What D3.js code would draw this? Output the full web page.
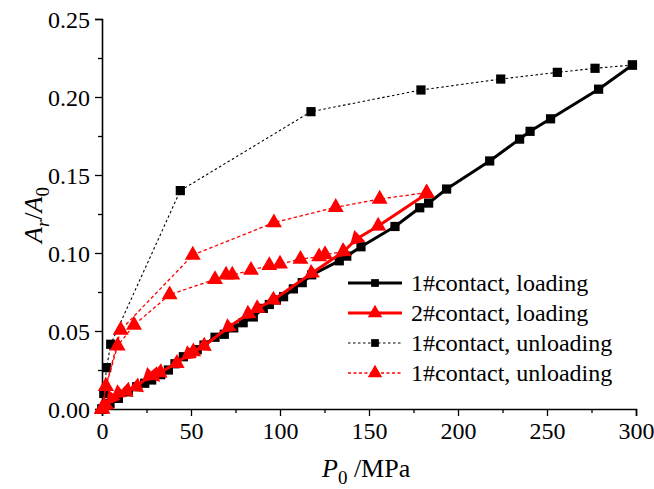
<!DOCTYPE html>
<html>
<head>
<meta charset="utf-8">
<script src="https://cdn.jsdelivr.net/npm/d3@7"></script>
<style>
  html, body { margin: 0; padding: 0; background: #fff; }
  svg text { font-family: "Liberation Serif", "Times New Roman", serif; }
</style>
</head>
<body>
<svg id="chart" width="654" height="489"></svg>
<script>
// ---- data ----
const xTicks = [0, 50, 100, 150, 200, 250, 300];
const yTicks = [0.00, 0.05, 0.10, 0.15, 0.20, 0.25];

const load1X = [0, 4.5, 9.2, 14.8, 19.5, 24, 27.9, 33, 37.3, 41, 45.7, 50, 53.5, 57.3, 63.5, 68.7, 74, 79.3, 85, 90.6, 94, 98, 102, 107.5, 112.5, 117.8, 133.3, 137.5, 145.5, 164.6, 178.5, 183.5, 193.6, 217.8, 234.6, 240.5, 252, 279, 298];
const load1Y = [0, 0.0036, 0.0068, 0.011, 0.0143, 0.0165, 0.0186, 0.022, 0.025, 0.029, 0.0335, 0.036, 0.038, 0.041, 0.046, 0.0479, 0.052, 0.0553, 0.059, 0.0645, 0.067, 0.0699, 0.072, 0.077, 0.081, 0.086, 0.095, 0.098, 0.104, 0.117, 0.129, 0.132, 0.141, 0.159, 0.173, 0.178, 0.186, 0.205, 0.2205];

const load2X = [0, 2, 5.4, 9.2, 13.9, 19.5, 26.4, 29.2, 32.6, 42, 48.5, 51.3, 57.3, 71, 82.2, 87.3, 96.2, 117.8, 135.6, 143, 155.2, 182.4];
const load2Y = [0, 0.002, 0.0068, 0.010, 0.0117, 0.0143, 0.0212, 0.0218, 0.0235, 0.0293, 0.035, 0.0368, 0.0404, 0.0524, 0.0609, 0.0645, 0.0699, 0.087, 0.1008, 0.109, 0.1173, 0.138];

const unload1X = [298, 277, 255.8, 224, 179.2, 117.4, 44, 4.9, 2.6, 1, 0];
const unload1Y = [0.2205, 0.2184, 0.2158, 0.2115, 0.2045, 0.1906, 0.140, 0.0415, 0.0265, 0.01, 0];

const unload2aX = [182.4, 156, 131.3, 96.6, 51, 10.5, 2.2, 0];
const unload2aY = [0.1387, 0.1346, 0.1293, 0.1195, 0.0987, 0.0506, 0.0145, 0];
const unload2bX = [135.6, 125.3, 122, 111.5, 100, 94, 83.7, 73.2, 69.7, 63.5, 38, 18, 8.8, 2.2, 0];
const unload2bY = [0.1008, 0.099, 0.0976, 0.096, 0.093, 0.092, 0.089, 0.0859, 0.0859, 0.0831, 0.0733, 0.0538, 0.0405, 0.0145, 0];

const legendLabels = ["1#contact, loading", "2#contact, loading", "1#contact, unloading", "1#contact, unloading"];

// ---- chart ----
const svg = d3.select("#chart");
const x = d3.scaleLinear().domain([0, 300]).range([102, 636]);
const y = d3.scaleLinear().domain([0, 0.25]).range([409, 19]);

const zip = (xs, ys) => xs.map((v, i) => [v, ys[i]]);
const line = d3.line().x(d => x(d[0])).y(d => y(d[1]));

const g = svg.append("g");

// axes
const xAxis = d3.axisBottom(x).tickValues(xTicks).tickSize(7).tickFormat(d3.format("d"));
const xMinor = d3.axisBottom(x).tickValues(d3.range(25, 300, 50)).tickSize(4).tickFormat("");
const yAxis = d3.axisLeft(y).tickValues(yTicks).tickSize(7).tickFormat(d3.format(".2f"));
const yMinor = d3.axisLeft(y).tickValues(d3.range(0.025, 0.25, 0.05)).tickSize(4).tickFormat("");

function styleAxis(sel) {
  sel.select(".domain").attr("stroke", "#000").attr("stroke-width", 1.6);
  sel.selectAll(".tick line").attr("stroke", "#000").attr("stroke-width", 1.3);
  sel.selectAll(".tick text").attr("fill", "#000").attr("font-size", 24)
     .attr("font-family", "Liberation Serif, Times New Roman, serif");
}
const gx = g.append("g").attr("transform", "translate(0,409)").call(xAxis).call(styleAxis);
gx.selectAll(".tick text").attr("dy", "0.85em").attr("y", 10);
g.append("g").attr("transform", "translate(0,409)").call(xMinor).call(styleAxis).select(".domain").remove();
const gy = g.append("g").attr("transform", "translate(102,0)").call(yAxis).call(styleAxis);
gy.selectAll(".tick text").attr("x", -12).attr("dy", "0.34em");
g.append("g").attr("transform", "translate(102,0)").call(yMinor).call(styleAxis).select(".domain").remove();

// series lines
const sq = d3.symbol().type(d3.symbolSquare).size(85);
const tri = d3.symbol().type(d3.symbolTriangle).size(110);

function drawLine(data, color, width, dash) {
  g.append("path").datum(data).attr("d", line)
    .attr("fill", "none").attr("stroke", color).attr("stroke-width", width)
    .attr("stroke-dasharray", dash || null).attr("stroke-linejoin", "round");
}
function drawSquares(data) {
  g.append("g").selectAll("path").data(data).join("path")
    .attr("d", sq).attr("fill", "#000")
    .attr("transform", d => `translate(${x(d[0])},${y(d[1])})`);
}
function drawTriangles(data, rotate) {
  g.append("g").selectAll("path").data(data).join("path")
    .attr("d", tri).attr("fill", "#ff0000")
    .attr("transform", (d, i) => {
      let r = 0;
      if (rotate && i > 0) {
        const p = data[i - 1];
        const ang = Math.atan2(y(p[1]) - y(d[1]), x(p[0]) - x(d[0])) * 180 / Math.PI;
        r = ang + 90;
      } else if (rotate) r = -123;
      return `translate(${x(d[0])},${y(d[1])}) rotate(${r})`;
    });
}

const u1 = zip(unload1X, unload1Y);
const u2a = zip(unload2aX, unload2aY);
const u2b = zip(unload2bX, unload2bY);
const l1 = zip(load1X, load1Y);
const l2 = zip(load2X, load2Y);

drawLine(u1, "#000", 1.1, "2.5,2.5");
drawSquares(u1);
drawLine(u2a, "#ff0000", 1.3, "3.5,2.5");
drawLine(u2b, "#ff0000", 1.3, "3.5,2.5");
drawTriangles(u2a, false);
drawTriangles(u2b, false);
drawLine(l1, "#000", 3, null);
drawSquares(l1);
drawLine(l2, "#ff0000", 3, null);
drawTriangles(l2, true);

// axis titles
const xt = svg.append("text").attr("x", 322).attr("y", 477).attr("font-size", 26).attr("fill", "#000");
xt.append("tspan").attr("font-style", "italic").text("P");
xt.append("tspan").attr("font-size", 19).attr("dy", 7).text("0");
xt.append("tspan").attr("dy", -7).text(" /MPa");

const yt = svg.append("text").attr("transform", "translate(42,215) rotate(-90)")
  .attr("text-anchor", "middle").attr("font-size", 26).attr("fill", "#000");
yt.append("tspan").attr("font-style", "italic").text("A");
yt.append("tspan").attr("font-style", "italic").attr("font-size", 19).attr("dy", 7).text("r");
yt.append("tspan").attr("dy", -7).text("/");
yt.append("tspan").attr("font-style", "italic").text("A");
yt.append("tspan").attr("font-size", 19).attr("dy", 7).text("0");

// legend
const legendRows = [283, 313, 343, 373];
const legendStyle = [
  { color: "#000", width: 3, dash: null, sym: "sq" },
  { color: "#ff0000", width: 3, dash: null, sym: "tri" },
  { color: "#000", width: 1.1, dash: "2.5,2.5", sym: "sq" },
  { color: "#ff0000", width: 1.3, dash: "3,2.5", sym: "tri" }
];
const lg = svg.append("g");
legendLabels.forEach((lab, i) => {
  const yy = legendRows[i], s = legendStyle[i];
  lg.append("line").attr("x1", 348).attr("x2", 402).attr("y1", yy).attr("y2", yy)
    .attr("stroke", s.color).attr("stroke-width", s.width).attr("stroke-dasharray", s.dash);
  lg.append("path")
    .attr("d", s.sym === "sq" ? d3.symbol().type(d3.symbolSquare).size(60)() : d3.symbol().type(d3.symbolTriangle).size(90)())
    .attr("fill", s.color).attr("transform", `translate(375,${yy})`);
  lg.append("text").attr("x", 411).attr("y", yy + 8).attr("font-size", 24).attr("fill", "#000").text(lab);
});
</script>
</body>
</html>
